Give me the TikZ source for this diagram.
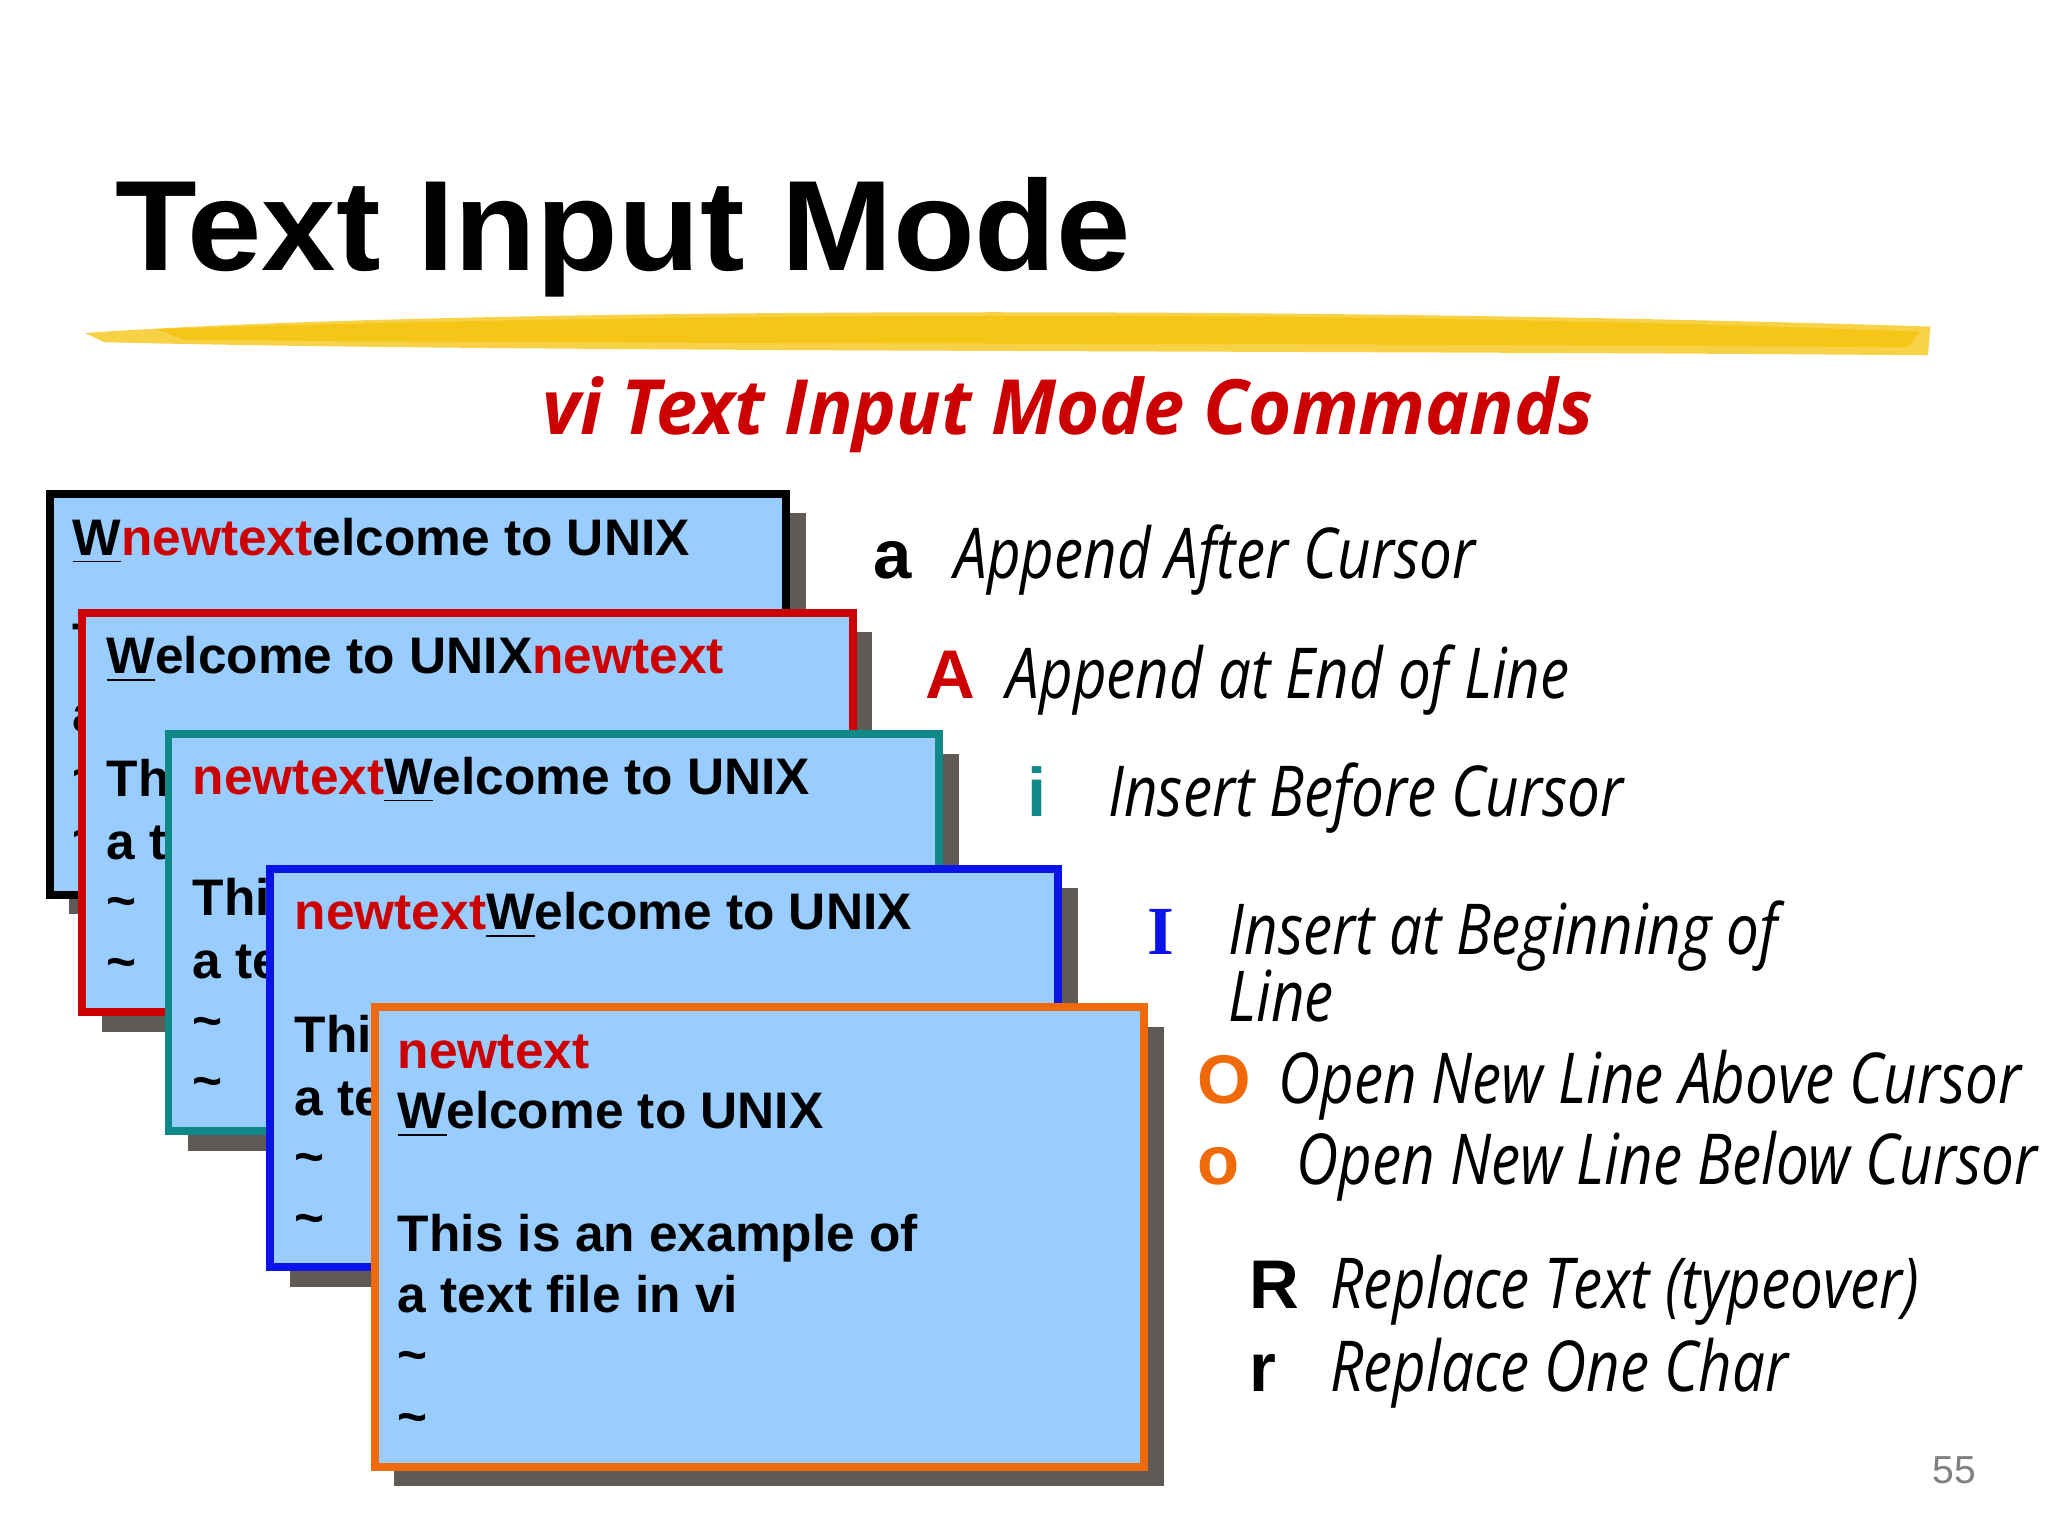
\documentclass[tikz,border=0pt]{standalone}
\usepackage{fontspec}
\setmainfont{Liberation Sans}
\newfontfamily\itf[FakeStretch=0.83]{Open Sans}
\newfontfamily\subf[FakeStretch=0.97]{Open Sans}
\newfontfamily\serf{Liberation Serif}
\definecolor{boxfill}{HTML}{99CCFF}
\definecolor{shad}{HTML}{5F5A55}
\definecolor{vred}{HTML}{CC0000}
\definecolor{vteal}{HTML}{108888}
\definecolor{vblue}{HTML}{0A14E6}
\definecolor{vorange}{HTML}{F06A0A}
\definecolor{brush}{HTML}{F5C518}
\tikzset{
 win/.style={fill=boxfill,line width=0.6mm},
 sh/.style={fill=shad},
 bt/.style={anchor=base west,inner sep=0pt,font=\fontsize{11.2}{13}\selectfont\bfseries},
 cmd/.style={anchor=base west,inner sep=0pt,font=\fontsize{15}{18}\selectfont\bfseries},
 desc/.style={anchor=base west,inner sep=0pt,font=\fontsize{15.3}{18}\selectfont\itf\itshape},
}
\newcommand{\nt}{\textcolor{vred}{newtext}}
\newcommand{\uW}{\underline{W}}
\begin{document}
\begin{tikzpicture}[x=0.1mm,y=-0.1mm]
\useasboundingbox (0,0) rectangle (1568,1176);
\fill[white] (0,0) rectangle (1568,1176);
% title
\node[anchor=base west,inner sep=0pt,font=\fontsize{28}{32}\selectfont\bfseries] (title) at (88,207) {\scalebox{1.04}[1]{Text Input Mode}};
% brush stroke
\fill[brush!80!white] (65,255) .. controls (300,238) and (900,232) .. (1478,250) -- (1476,272) .. controls (1000,268) and (400,270) .. (80,262) -- cycle;
\fill[brush] (120,252) .. controls (500,240) and (1000,236) .. (1470,254) -- (1460,266) .. controls (1000,262) and (500,264) .. (140,260) -- cycle;
% subtitle
\node[anchor=base west,inner sep=0pt,text=vred,font=\fontsize{16.6}{20}\selectfont\subf\bfseries\itshape] (sub) at (415,333) {vi Text Input Mode Commands};
% box 1
\fill[sh] (53,393) rectangle (617,700);
\draw[win,draw=black] (38,378) rectangle (602,685);
\node[bt] (b1a) at (55,425) {\uW\nt elcome to UNIX};
\node[bt] (b1b) at (55,505) {This is an example of};
\node[bt] (b1c) at (55,560) {a text file in vi};
\node[bt] (b1d) at (55,605) {\~{}};
\node[bt] (b1e) at (55,652) {\~{}};
% box 2
\fill[sh] (78,484) rectangle (668,790);
\draw[win,draw=vred] (63,469) rectangle (653,775);
\node[bt] (b2a) at (81,516) {\uW elcome to UNIX\nt};
\node[bt] (b2b) at (81,610) {This is an example of};
\node[bt] (b2c) at (81,658) {a text file in vi};
\node[bt] (b2d) at (81,703) {\~{}};
\node[bt] (b2e) at (81,750) {\~{}};
% box 3
\fill[sh] (144,577) rectangle (734,881);
\draw[win,draw=vteal] (129,562) rectangle (719,866);
\node[bt] (b3a) at (147,608) {\nt\uW elcome to UNIX};
\node[bt] (b3b) at (147,701) {This is an example of};
\node[bt] (b3c) at (147,749) {a text file in vi};
\node[bt] (b3d) at (147,795) {\~{}};
\node[bt] (b3e) at (147,841) {\~{}};
% box 4
\fill[sh] (222,680) rectangle (825,985);
\draw[win,draw=vblue] (207,665) rectangle (810,970);
\node[bt] (b4a) at (225,712) {\nt\uW elcome to UNIX};
\node[bt] (b4b) at (225,806) {This is an example of};
\node[bt] (b4c) at (225,854) {a text file in vi};
\node[bt] (b4d) at (225,899) {\~{}};
\node[bt] (b4e) at (225,946) {\~{}};
% box 5
\fill[sh] (302,786) rectangle (891,1138);
\draw[win,draw=vorange] (287,771) rectangle (876,1123);
\node[bt] (b5a) at (304,818) {\nt};
\node[bt] (b5b) at (304,864) {\uW elcome to UNIX};
\node[bt] (b5c) at (304,958) {This is an example of};
\node[bt] (b5d) at (304,1005) {a text file in vi};
\node[bt] (b5e) at (304,1051) {\~{}};
\node[bt] (b5f) at (304,1098) {\~{}};
% commands
\node[cmd] (ca) at (668,443) {a};
\node[desc] (da) at (730,443) {Append After Cursor};
\node[cmd,text=vred] (cA) at (708,535) {A};
\node[desc] (dA) at (770,535) {Append at End of Line};
\node[cmd,text=vteal] (ci) at (786,625) {i};
\node[desc] (di) at (848,625) {Insert Before Cursor};
\node[cmd,text=vblue,font=\fontsize{15}{18}\selectfont\serf\bfseries] (cI) at (878,731) {I};
\node[desc] (dI) at (940,731) {Insert at Beginning of};
\node[desc] (dI2) at (940,782) {Line};
\node[cmd,text=vorange] (cO) at (916,845) {O};
\node[desc] (dO) at (978,845) {Open New Line Above Cursor};
\node[cmd,text=vorange] (co) at (916,907) {o};
\node[desc] (do) at (992,907) {Open New Line Below Cursor};
\node[cmd] (cR) at (956,1002) {R};
\node[desc] (dR) at (1018,1002) {Replace Text (typeover)};
\node[cmd] (cr) at (956,1065) {r};
\node[desc] (dr) at (1018,1065) {Replace One Char};
\node[anchor=base west,inner sep=0pt,text=gray,font=\fontsize{8.5}{10}\selectfont] (pg) at (1479,1136) {55};
\end{tikzpicture}
\end{document}
